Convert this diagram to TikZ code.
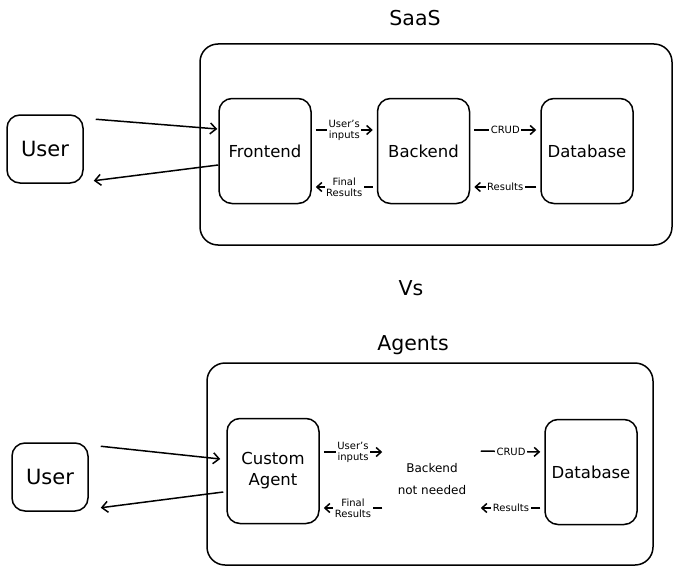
\documentclass[tikz,border=0pt]{standalone}
\usepackage{fontspec}
\setmainfont{DejaVu Sans}
\usetikzlibrary{arrows.meta}
\usetikzlibrary{positioning}
\tikzset{
>={Straight Barb[length=6pt,width=11pt]},
sketch/.style={line width=1.5pt,x=1pt,y=-1pt}, % pixel-like units, heavier lines
my box/.style={draw,rounded corners=13pt,minimum width=92pt,minimum height=105pt,
  align=center,font=\fontsize{16.5}{21}\selectfont},
user box/.style={draw,rounded corners=13pt,minimum width=76pt,minimum height=68pt,
  font=\fontsize{21}{25}\selectfont},
outer box/.style={draw,rounded corners=18pt},
title/.style={font=\fontsize{20.5}{24}\selectfont},
flow/.style={->,line width=1.5pt,>={Straight Barb[length=5pt,width=9pt]}},
flow label/.style={fill=white,inner sep=1.5pt,align=center,font=\fontsize{10}{11}\selectfont},
}
\begin{document}
\begin{tikzpicture}[sketch]
\useasboundingbox (0,0) rectangle (680,578);
% SaaS
\node[title] (saas) at (415,18) {SaaS};
\draw[outer box] (200,44) rectangle (672,245);
\node[user box] (user) at (45,149) {User};
\node[my box] (front) at (265,151) {Frontend};
\node[my box,right=65pt of front] (back) {Backend};
\node[my box,right=70pt of back] (db) {Database};
\draw[->] ([xshift=12pt,yshift=-5pt]user.north east) -- ([xshift=-1pt,yshift=22pt]front.west);
\draw[->] ([yshift=-14pt]front.west) -- ([xshift=10pt,yshift=3pt]user.south east);
\draw[flow,shorten <=4pt,shorten >=4pt] ([yshift=21pt]front.east)
  -- node[flow label]{User's\\inputs} ([yshift=21pt]back.west);
\draw[flow,shorten <=4pt,shorten >=4pt] ([yshift=-36pt]back.west)
  -- node[flow label]{Final\\Results} ([yshift=-36pt]front.east);
\draw[flow,shorten <=4pt,shorten >=4pt] ([yshift=21pt]back.east)
  -- node[flow label]{CRUD} ([yshift=21pt]db.west);
\draw[flow,shorten <=4pt,shorten >=4pt] ([yshift=-36pt]db.west)
  -- node[flow label]{Results} ([yshift=-36pt]back.east);
\node[title] (vs) at (411,288) {Vs};
% Agents
\node[title] (agents) at (413,345) {Agents};
\draw[outer box] (207,363) rectangle (653,565);
\node[user box] (user2) at (50,477) {User};
\node[my box] (agent) at (273,471) {Custom\\Agent};
\node[my box] (db2) at (591,472) {Database};
\node[align=center,minimum width=90pt,font=\fontsize{12}{22}\selectfont] (nobe) at (432,479) {Backend\\not needed};
\draw[->] ([xshift=12pt,yshift=-4pt]user2.north east) -- ([xshift=-6pt,yshift=12pt]agent.west);
\draw[->] ([xshift=-3pt,yshift=-21pt]agent.west) -- ([xshift=12pt,yshift=4pt]user2.south east);
\draw[flow,shorten <=4pt,shorten >=4pt] ([yshift=19pt]agent.east)
  -- node[flow label]{User's\\inputs} ([yshift=27pt]nobe.west);
\draw[flow,shorten <=4pt,shorten >=4pt] ([yshift=-29pt]nobe.west)
  -- node[flow label]{Final\\Results} ([yshift=-37pt]agent.east);
\draw[flow,shorten <=3pt,shorten >=4pt] ([yshift=28pt]nobe.east)
  -- node[flow label]{CRUD} ([yshift=20pt]db2.west);
\draw[flow,shorten <=4pt,shorten >=3pt] ([yshift=-36pt]db2.west)
  -- node[flow label]{Results} ([yshift=-29pt]nobe.east);
\end{tikzpicture}
\end{document}
